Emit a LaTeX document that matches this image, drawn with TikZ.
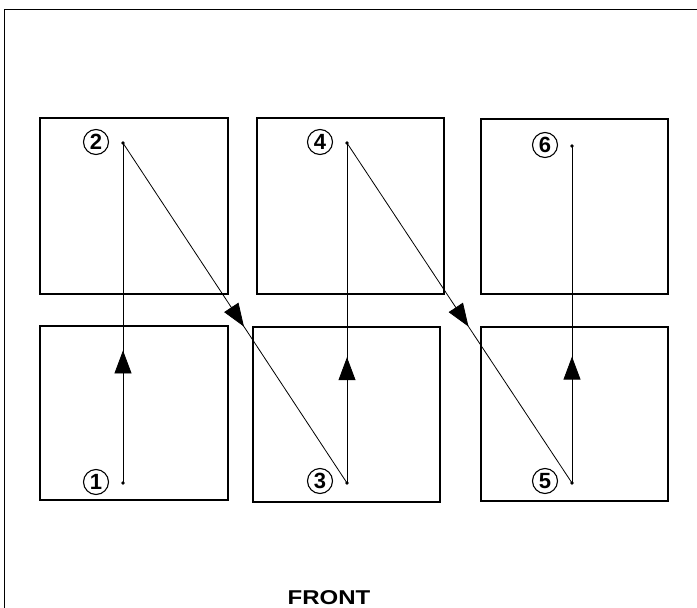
\documentclass[tikz,border=0pt]{standalone}
\usepackage{fontspec}
\setmainfont{Liberation Sans}
\usetikzlibrary{arrows.meta,decorations.markings}
\tikzset{
  panel/.style={draw, line width=1.8pt},
  pt/.style={circle, fill, inner sep=0pt, minimum size=3.6pt},
  num/.style={circle, draw, line width=1.1pt, inner sep=0pt, minimum size=25pt, font=\bfseries\fontsize{22}{22}\selectfont},
  path/.style={line width=0.8pt},
  midarrow/.style={postaction={decorate}, decoration={markings,
     mark=at position #1 with {\arrow{Triangle[length=23pt,width=17pt]}}}},
}
\begin{document}
\begin{tikzpicture}[x=1pt,y=-1pt]
\useasboundingbox (0,0) rectangle (697,608);
% outer frame (only top and left visible)
\draw[line width=1.8pt] (4.5,608) -- (4.5,9.5) -- (697,9.5);
% panels
\draw[panel] (40,118) rectangle (228,294);
\draw[panel] (40,326) rectangle (228,500);
\draw[panel] (257,118) rectangle (444,294);
\draw[panel] (253,327) rectangle (440,502);
\draw[panel] (481,119) rectangle (668,294);
\draw[panel] (481,327) rectangle (668,501);
% points
\node[pt] (p1) at (123,483) {};
\node[pt] (p2) at (123,143) {};
\node[pt] (p3) at (347,483) {};
\node[pt] (p4) at (347,143) {};
\node[pt] (p5) at (572,483) {};
\node[pt] (p6) at (572,146) {};
% labels
\node[num] (l1) at (96,482) {1};
\node[num] (l2) at (96,142) {2};
\node[num] (l3) at (320,481) {3};
\node[num] (l4) at (320,142) {4};
\node[num] (l5) at (545,481) {5};
\node[num] (l6) at (545,145) {6};
% connectors
\draw[path, midarrow=0.39] (p1.center) -- (p2.center);
\draw[path, midarrow=0.54] (p2.center) -- (p3.center);
\draw[path, midarrow=0.37] (p3.center) -- (p4.center);
\draw[path, midarrow=0.54] (p4.center) -- (p5.center);
\draw[path, midarrow=0.375] (p5.center) -- (p6.center);
% caption
\node[font=\bfseries\fontsize{20}{20}\selectfont, xscale=1.2, inner sep=0pt] (front) at (329,598) {FRONT};
\end{tikzpicture}
\end{document}
